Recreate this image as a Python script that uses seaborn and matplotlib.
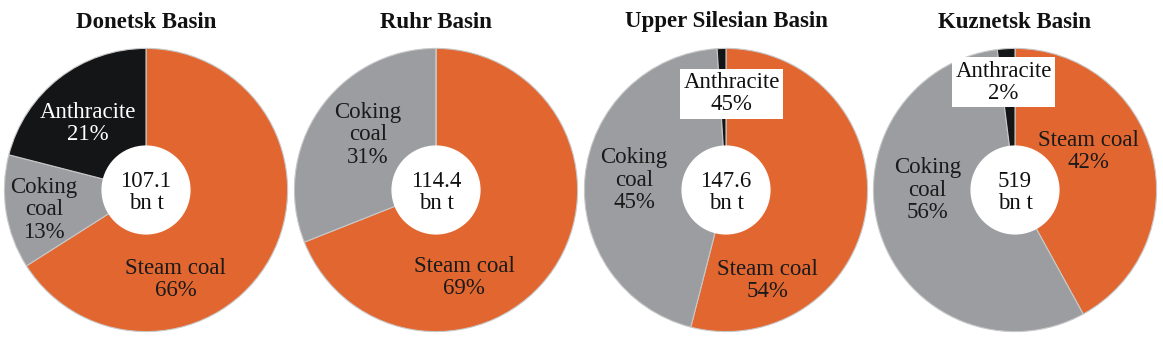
import matplotlib
matplotlib.use("Agg")
import matplotlib.pyplot as plt
import seaborn as sns

sns.set_theme(style="white")
plt.rcParams['font.family'] = ['Liberation Serif', 'DejaVu Serif']

# data
basins = ["Donetsk Basin", "Ruhr Basin", "Upper Silesian Basin", "Kuznetsk Basin"]
reserves = ["107.1\nbn t", "114.4\nbn t", "147.6\nbn t", "519\nbn t"]
steam = [66, 69, 54, 42]
coking = [13, 31, 45, 56]
anthracite = [21, 0, 1, 2]
steam_lbl = ["Steam coal\n66%", "Steam coal\n69%", "Steam coal\n54%", "Steam coal\n42%"]
coking_lbl = ["Coking\ncoal\n13%", "Coking\ncoal\n31%", "Coking\ncoal\n45%", "Coking\ncoal\n56%"]
anthr_lbl = ["Anthracite\n21%", None, "Anthracite\n45%", "Anthracite\n2%"]

colors = ["#E2662F", "#9B9DA0", "#141517"]

# label positions (pie data units)
centers_px = [146, 436, 726, 1015]
steam_pos = [(0.21, -0.63), (0.20, -0.62), (0.29, -0.64), (0.52, 0.27)]
coking_pos = [(-0.72, -0.14), (-0.48, 0.39), (-0.65, 0.07), (-0.62, 0.0)]
anthr_pos = [(-0.41, 0.47), None, (0.04, 0.68), (-0.08, 0.76)]

W, H = 1163, 337
fig = plt.figure(figsize=(W / 100, H / 100), dpi=100)
R = 143
cy = 190
fs = 16.5
ls = 1.08

for i in range(4):
    cx = centers_px[i]
    ax = fig.add_axes([(cx - R) / W, (H - cy - R) / H, 2 * R / W, 2 * R / H])
    vals = [steam[i], coking[i], anthracite[i]]
    ax.pie(vals, colors=colors, startangle=90, counterclock=False, radius=1,
           wedgeprops=dict(edgecolor="#c8c8c8", linewidth=0.8))
    ax.add_patch(plt.Circle((0, 0), 0.31, color="white", zorder=3))
    ax.text(0, -0.02, reserves[i], ha="center", va="center", fontsize=fs,
            linespacing=ls, color="#111111", zorder=4)
    ax.text(*steam_pos[i], steam_lbl[i], ha="center", va="center", fontsize=fs,
            linespacing=ls, color="#1a1a1a")
    ax.text(*coking_pos[i], coking_lbl[i], ha="center", va="center", fontsize=fs,
            linespacing=ls, color="#1a1a1a")
    if anthr_lbl[i] is not None:
        if i == 0:
            ax.text(*anthr_pos[i], anthr_lbl[i], ha="center", va="center", fontsize=fs,
                    linespacing=ls, color="white")
        else:
            ax.text(*anthr_pos[i], anthr_lbl[i], ha="center", va="center", fontsize=fs,
                    linespacing=ls, color="#111111",
                    bbox=dict(facecolor="white", edgecolor="none", pad=2.5))
    ax.set_xlim(-1.01, 1.01)
    ax.set_ylim(-1.01, 1.01)
    ax.set_aspect("equal")
    ax.axis("off")
    fig.text(cx / W, 1 - 22 / H, basins[i], ha="center", va="center",
             fontsize=16.5, fontweight="bold", color="#111111")

fig.savefig("out.png", dpi=100)
